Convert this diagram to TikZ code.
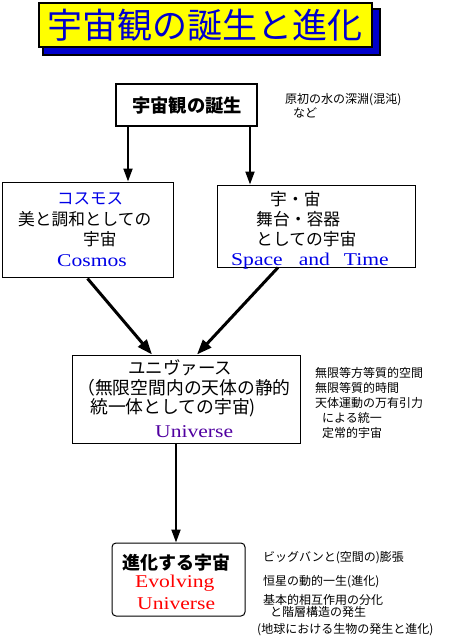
\documentclass[tikz,border=0pt]{standalone}
\usepackage{fontspec}
\setmainfont{Liberation Serif}
\newfontfamily\jp{Noto Sans CJK JP}
\newfontfamily\lat[FakeStretch=1.2]{Liberation Serif}
\usetikzlibrary{arrows.meta}
\definecolor{tblue}{RGB}{0,0,204}
\definecolor{cblue}{RGB}{0,0,230}
\definecolor{upurple}{RGB}{80,0,160}
\definecolor{ered}{RGB}{255,0,0}
\definecolor{tyellow}{RGB}{255,255,0}
\tikzset{
  box/.style={draw=black, line width=1pt, inner sep=0pt},
  boxthick/.style={draw=black, line width=2pt, inner sep=0pt},
  jpt/.style={font=\jp\fontsize{#1}{#1}\selectfont, inner sep=0pt, anchor=west},
  latt/.style={font=\lat\fontsize{18}{18}\selectfont, inner sep=0pt, anchor=base west},
  note/.style={font=\jp\fontsize{12}{12}\selectfont, inner sep=0pt, anchor=west},
  arr/.style={line width=2pt, -{Triangle[width=9pt,length=13pt]}},
  darr/.style={line width=3pt, -{Triangle[width=11pt,length=15pt]}},
}
\begin{document}
\begin{tikzpicture}[x=1pt,y=-1pt]
\useasboundingbox (0,0) rectangle (449,641);
% title
\node[boxthick, fill=tblue, minimum width=337pt, minimum height=46pt] (tshadow) at (211.5,32) {};
\node[boxthick, fill=tyellow, minimum width=333pt, minimum height=44pt] (tbox) at (205.5,25) {};
\node[font=\jp\fontsize{35}{35}\selectfont, text=tblue, inner sep=0pt] (title) at (205,25) {宇宙観の誕生と進化};
% box 1
\node[boxthick, minimum width=141pt, minimum height=42pt] (b1) at (186.5,105) {};
\node[font=\jp\bfseries\fontsize{18.3}{18.3}\selectfont, inner sep=0pt] (b1t) at (187,105) {宇宙観の誕生};
\node[note] (n1a) at (285,100) {原初の水の深淵(混沌)};
\node[note] (n1b) at (293,113) {など};
% cosmos box
\node[box, minimum width=171pt, minimum height=95pt] (cos) at (87.5,229.5) {};
\node[jpt=16.5, text=cblue] (c1) at (57,199) {コスモス};
\node[jpt=16.7] (c2) at (18,219) {美と調和としての};
\node[jpt=16.7] (c3) at (83,239) {宇宙};
\node[latt, text=cblue] (c4) at (57,266) {Cosmos};
% space box
\node[box, minimum width=198pt, minimum height=82pt] (sp) at (316,226) {};
\node[jpt=16.8] (s1) at (270,199) {宇・宙};
\node[jpt=16.8] (s2) at (256,219) {舞台・容器};
\node[jpt=16.8] (s3) at (256,239) {としての宇宙};
\node[latt, text=cblue] (s4) at (231,265) {Space\hspace{16pt}and\hspace{14pt}Time};
% universe box
\node[box, minimum width=228pt, minimum height=88pt] (un) at (186,399) {};
\node[jpt=17.5] (u1) at (128,368) {ユニヴァース};
\node[jpt=17.8] (u2) at (77,388) {（無限空間内の天体の静的};
\node[jpt=17.8] (u3) at (90,408) {統一体としての宇宙)};
\node[latt, text=upurple] (u4) at (155,437) {Universe};
\node[note] (un1) at (315,373) {無限等方等質的空間};
\node[note] (un2) at (315,388) {無限等質的時間};
\node[note] (un3) at (315,403) {天体運動の万有引力};
\node[note] (un4) at (322,418) {による統一};
\node[note] (un5) at (322,433) {定常的宇宙};
% evolving box
\node[box, rounded corners=4pt, minimum width=133pt, minimum height=73pt] (ev) at (178.5,579.5) {};
\node[font=\jp\bfseries\fontsize{18}{18}\selectfont, inner sep=0pt, anchor=west] (e1) at (122,563) {進化する宇宙};
\node[latt, text=ered] (e2) at (135,587) {Evolving};
\node[latt, text=ered] (e3) at (137,609) {Universe};
\node[note] (en1) at (263,558) {ビッグバンと(空間の)膨張};
\node[note] (en2) at (263,582) {恒星の動的一生(進化)};
\node[note] (en3) at (263,600) {基本的相互作用の分化};
\node[note] (en4) at (270,612) {と階層構造の発生};
\node[note] (en5) at (257,630) {(地球における生物の発生と進化)};
% arrows
\draw[arr] ([xshift=-58.5pt]b1.south) -- ([xshift=40.5pt]cos.north);
\draw[arr] ([xshift=63.5pt]b1.south) -- ([xshift=-66pt]sp.north);
\draw[darr] ([yshift=-1pt]cos.south) -- ([xshift=-34pt]un.north);
\draw[darr] ([xshift=-38pt]sp.south) -- ([xshift=11pt]un.north);
\draw[arr] ([xshift=-10pt]un.south) -- ([xshift=-2.5pt]ev.north);
\end{tikzpicture}
\end{document}
